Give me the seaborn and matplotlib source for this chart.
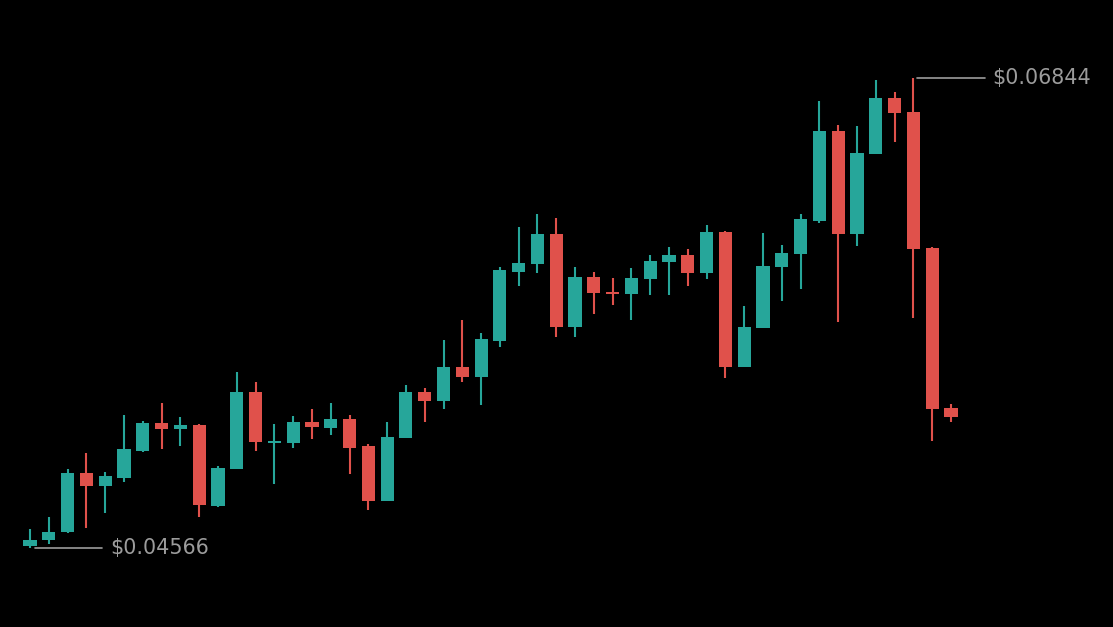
import numpy as np
import pandas as pd
import matplotlib
matplotlib.use("Agg")
import matplotlib.pyplot as plt
import seaborn as sns

# ---- data ----
opens = [0.04576, 0.04605, 0.04644, 0.04930, 0.04867, 0.04905, 0.05036, 0.05172, 0.05143, 0.05162,
         0.04770, 0.04949, 0.05322, 0.05075, 0.05075, 0.05177, 0.05148, 0.05191, 0.05060, 0.04794,
         0.05099, 0.05322, 0.05279, 0.05443, 0.05395, 0.05569, 0.05904, 0.05942, 0.06088, 0.05637,
         0.05880, 0.05804, 0.05797, 0.05870, 0.05952, 0.05986, 0.05899, 0.06098, 0.05443, 0.05632,
         0.05928, 0.05991, 0.06151, 0.06587, 0.06088, 0.06476, 0.06747, 0.06679, 0.06020, 0.05245]
highs = [0.04658, 0.04716, 0.04949, 0.05026, 0.04934, 0.05211, 0.05182, 0.05269, 0.05201, 0.05165,
         0.04963, 0.05419, 0.05371, 0.05167, 0.05206, 0.05240, 0.05269, 0.05211, 0.05070, 0.05177,
         0.05356, 0.05342, 0.05574, 0.05671, 0.05608, 0.05928, 0.06122, 0.06185, 0.06165, 0.05928,
         0.05904, 0.05875, 0.05923, 0.05986, 0.06025, 0.06015, 0.06132, 0.06100, 0.05739, 0.06093,
         0.06035, 0.06185, 0.06733, 0.06616, 0.06611, 0.06834, 0.06776, 0.06844, 0.06025, 0.05264]
lows = [0.04566, 0.04585, 0.04640, 0.04663, 0.04736, 0.04886, 0.05031, 0.05046, 0.05060, 0.04716,
        0.04765, 0.04947, 0.05036, 0.04876, 0.05051, 0.05094, 0.05114, 0.04925, 0.04750, 0.04792,
        0.05097, 0.05177, 0.05240, 0.05371, 0.05259, 0.05540, 0.05836, 0.05899, 0.05589, 0.05589,
        0.05700, 0.05744, 0.05671, 0.05792, 0.05792, 0.05836, 0.05870, 0.05390, 0.05441, 0.05630,
        0.05763, 0.05821, 0.06141, 0.05661, 0.06030, 0.06474, 0.06534, 0.05681, 0.05085, 0.05177]
closes = [0.04605, 0.04644, 0.04930, 0.04867, 0.04915, 0.05046, 0.05172, 0.05143, 0.05162, 0.04774,
          0.04954, 0.05322, 0.05080, 0.05085, 0.05177, 0.05153, 0.05191, 0.05051, 0.04794, 0.05104,
          0.05322, 0.05279, 0.05443, 0.05395, 0.05579, 0.05913, 0.05947, 0.06088, 0.05637, 0.05880,
          0.05802, 0.05797, 0.05875, 0.05957, 0.05986, 0.05899, 0.06098, 0.05443, 0.05637, 0.05933,
          0.05996, 0.06161, 0.06587, 0.06088, 0.06480, 0.06747, 0.06674, 0.06015, 0.05240, 0.05201]

UP = "#26a69a"
DOWN = "#e0514b"
LABEL = "#9c9c9c"

df = pd.DataFrame({"open": opens, "high": highs, "low": lows, "close": closes})
df["idx"] = np.arange(len(df))
df["up"] = df["close"] >= df["open"]
df["color"] = np.where(df["up"], UP, DOWN)
df["bot"] = df[["open", "close"]].min(axis=1)
df["top"] = df[["open", "close"]].max(axis=1)
df["height"] = (df["top"] - df["bot"]).clip(lower=0.00009)

sns.set_theme(style="dark", rc={"axes.facecolor": "black", "figure.facecolor": "black"})
plt.rcParams["font.family"] = ["DejaVu Sans"]

fig = plt.figure(figsize=(11.13, 6.27), dpi=100)
ax = fig.add_axes([0, 0, 1, 1])
ax.set_facecolor("black")

# wicks
ax.vlines(df["idx"], df["low"], df["high"], colors=df["color"], linewidth=1.5, zorder=1)
# bodies
ax.bar(df["idx"], df["height"], bottom=df["bot"], width=0.7, color=df["color"],
       linewidth=0, zorder=2)

ax.set_xlim(-1.596, 57.62)
ax.set_ylim(0.04183, 0.07222)
ax.axis("off")

# max / min labels
imax = int(df["high"].idxmax())
imin = int(df["low"].idxmin())
hmax = df["high"].max()
lmin = df["low"].min()
ax.plot([imax + 0.2, imax + 3.8], [hmax, hmax], color=LABEL, linewidth=1.2)
ax.text(imax + 4.2, hmax, f"${hmax:.5f}", color=LABEL, fontsize=14.9, va="center", ha="left")
ax.plot([imin + 0.25, imin + 3.85], [lmin, lmin], color=LABEL, linewidth=1.2)
ax.text(imin + 4.25, lmin, f"${lmin:.5f}", color=LABEL, fontsize=14.9, va="center", ha="left")

fig.savefig("out.png", dpi=100, facecolor="black")
